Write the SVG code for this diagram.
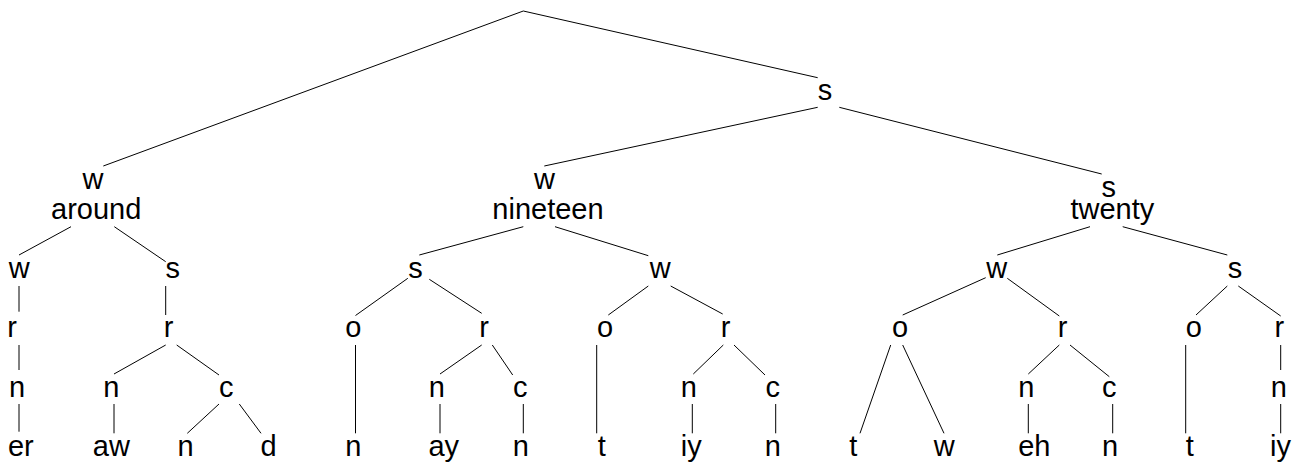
<svg xmlns="http://www.w3.org/2000/svg" width="1297" height="465" viewBox="0 0 1297 465">
<style>
text{font-family:"Liberation Sans",Arial,Helvetica,sans-serif;font-size:29px;fill:#000;text-anchor:middle}
#connectors line{stroke:#000;stroke-width:1;fill:none}
</style>
<rect width="1297" height="465" fill="#fff"/>
<g id="connectors">
<line x1="523.3" y1="11" x2="103.3" y2="166"/>
<line x1="523.3" y1="11" x2="817.7" y2="77.7"/>
<line x1="817.7" y1="107.3" x2="544.3" y2="166"/>
<line x1="839.3" y1="107.3" x2="1101.7" y2="174"/>
<line x1="71" y1="226.7" x2="19" y2="255"/>
<line x1="114.3" y1="226.7" x2="165.7" y2="261.7"/>
<line x1="19" y1="286" x2="19" y2="311.7"/>
<line x1="19" y1="345" x2="19" y2="370"/>
<line x1="19" y1="404" x2="19" y2="431.7"/>
<line x1="165.7" y1="286" x2="165.7" y2="315"/>
<line x1="165.7" y1="345" x2="114" y2="374"/>
<line x1="176.7" y1="345" x2="219" y2="375"/>
<line x1="114" y1="404" x2="114" y2="433.3"/>
<line x1="219" y1="404" x2="187.3" y2="433.3"/>
<line x1="239.3" y1="404" x2="261" y2="433.3"/>
<line x1="523.3" y1="226.7" x2="419.3" y2="255"/>
<line x1="555" y1="226.7" x2="648.3" y2="255.7"/>
<line x1="407.8" y1="278.3" x2="355.5" y2="315.5"/>
<line x1="429.3" y1="279.3" x2="481.7" y2="313.3"/>
<line x1="355.5" y1="345" x2="355.5" y2="433.3"/>
<line x1="481.7" y1="345" x2="440" y2="374"/>
<line x1="492.3" y1="345" x2="512.7" y2="375"/>
<line x1="440" y1="404" x2="440" y2="433.3"/>
<line x1="523.3" y1="404" x2="523.3" y2="433.3"/>
<line x1="648.3" y1="286" x2="608.3" y2="315"/>
<line x1="670.7" y1="286" x2="722.7" y2="314"/>
<line x1="596.7" y1="345" x2="596.7" y2="433.3"/>
<line x1="723.3" y1="345" x2="693.3" y2="374"/>
<line x1="734" y1="345" x2="765" y2="375"/>
<line x1="692.3" y1="404" x2="692.3" y2="433.3"/>
<line x1="775.7" y1="404" x2="775.7" y2="433.3"/>
<line x1="1090" y1="226.7" x2="997.3" y2="255"/>
<line x1="1122.7" y1="226.7" x2="1227.3" y2="255"/>
<line x1="985.7" y1="277.7" x2="902.7" y2="315"/>
<line x1="1007.3" y1="278.3" x2="1059.3" y2="316"/>
<line x1="1227.3" y1="286" x2="1196" y2="315"/>
<line x1="1238.3" y1="286" x2="1280.7" y2="316"/>
<line x1="890.7" y1="345" x2="860" y2="433.3"/>
<line x1="902.7" y1="345" x2="944" y2="433.3"/>
<line x1="1059.3" y1="345" x2="1028.3" y2="374"/>
<line x1="1070" y1="345" x2="1109.3" y2="376.7"/>
<line x1="1028.3" y1="404" x2="1028.3" y2="433.3"/>
<line x1="1112.7" y1="404" x2="1112.7" y2="433.3"/>
<line x1="1185.7" y1="345" x2="1185.7" y2="433.3"/>
<line x1="1280.7" y1="345" x2="1280.7" y2="370"/>
<line x1="1280.7" y1="404" x2="1280.7" y2="433.3"/>
</g>
<g id="n-root"></g>
<g id="n-s1"><text x="825" y="100">s</text></g>
<g id="n-around"><text x="93" y="189">w</text><text x="96.2" y="219">around</text></g>
<g id="n-nineteen"><text x="544.5" y="189">w</text><text x="548" y="219">nineteen</text></g>
<g id="n-twenty"><text x="1108.8" y="196.7">s</text><text x="1112.3" y="219">twenty</text></g>
<g id="n-a-w"><text x="19.2" y="277.7">w</text></g>
<g id="n-a-s"><text x="172.8" y="277.7">s</text></g>
<g id="n-n-s"><text x="415.4" y="277.7">s</text></g>
<g id="n-n-w"><text x="660.3" y="277.7">w</text></g>
<g id="n-t-w"><text x="996.7" y="277.7">w</text></g>
<g id="n-t-s"><text x="1235" y="277.7">s</text></g>
<g id="n-a-w-r"><text x="12" y="337.3">r</text></g>
<g id="n-a-s-r"><text x="168.5" y="337.3">r</text></g>
<g id="n-n-s-o"><text x="353.3" y="337.3">o</text></g>
<g id="n-n-s-r"><text x="484" y="337.3">r</text></g>
<g id="n-n-w-o"><text x="605" y="337.3">o</text></g>
<g id="n-n-w-r"><text x="725.7" y="337.3">r</text></g>
<g id="n-t-w-o"><text x="900" y="337.3">o</text></g>
<g id="n-t-w-r"><text x="1062.7" y="337.3">r</text></g>
<g id="n-t-s-o"><text x="1193.7" y="337.3">o</text></g>
<g id="n-t-s-r"><text x="1279.3" y="337.3">r</text></g>
<g id="n-a-w-r-n"><text x="17" y="396.7">n</text></g>
<g id="n-a-s-r-n"><text x="111.2" y="396.7">n</text></g>
<g id="n-a-s-r-c"><text x="226.2" y="396.7">c</text></g>
<g id="n-n-s-r-n"><text x="436.7" y="396.7">n</text></g>
<g id="n-n-s-r-c"><text x="520.3" y="396.7">c</text></g>
<g id="n-n-w-r-n"><text x="688.8" y="396.7">n</text></g>
<g id="n-n-w-r-c"><text x="772.7" y="396.7">c</text></g>
<g id="n-t-w-r-n"><text x="1026.3" y="396.7">n</text></g>
<g id="n-t-w-r-c"><text x="1109.3" y="396.7">c</text></g>
<g id="n-t-s-r-n"><text x="1278.8" y="396.7">n</text></g>
<g id="l-er"><text x="20.8" y="455.7">er</text></g>
<g id="l-aw"><text x="111.3" y="455.7">aw</text></g>
<g id="l-n1"><text x="185.5" y="455.7">n</text></g>
<g id="l-d"><text x="268.5" y="455.7">d</text></g>
<g id="l-n2"><text x="353.3" y="455.7">n</text></g>
<g id="l-ay"><text x="443.8" y="455.7">ay</text></g>
<g id="l-n3"><text x="520.7" y="455.7">n</text></g>
<g id="l-t1"><text x="601.7" y="455.7">t</text></g>
<g id="l-iy1"><text x="691.3" y="455.7">iy</text></g>
<g id="l-n4"><text x="772.7" y="455.7">n</text></g>
<g id="l-t2"><text x="853.3" y="455.7">t</text></g>
<g id="l-w"><text x="944.3" y="455.7">w</text></g>
<g id="l-eh"><text x="1034.3" y="455.7">eh</text></g>
<g id="l-n5"><text x="1110" y="455.7">n</text></g>
<g id="l-t3"><text x="1189.7" y="455.7">t</text></g>
<g id="l-iy2"><text x="1280.5" y="455.7">iy</text></g>
</svg>
